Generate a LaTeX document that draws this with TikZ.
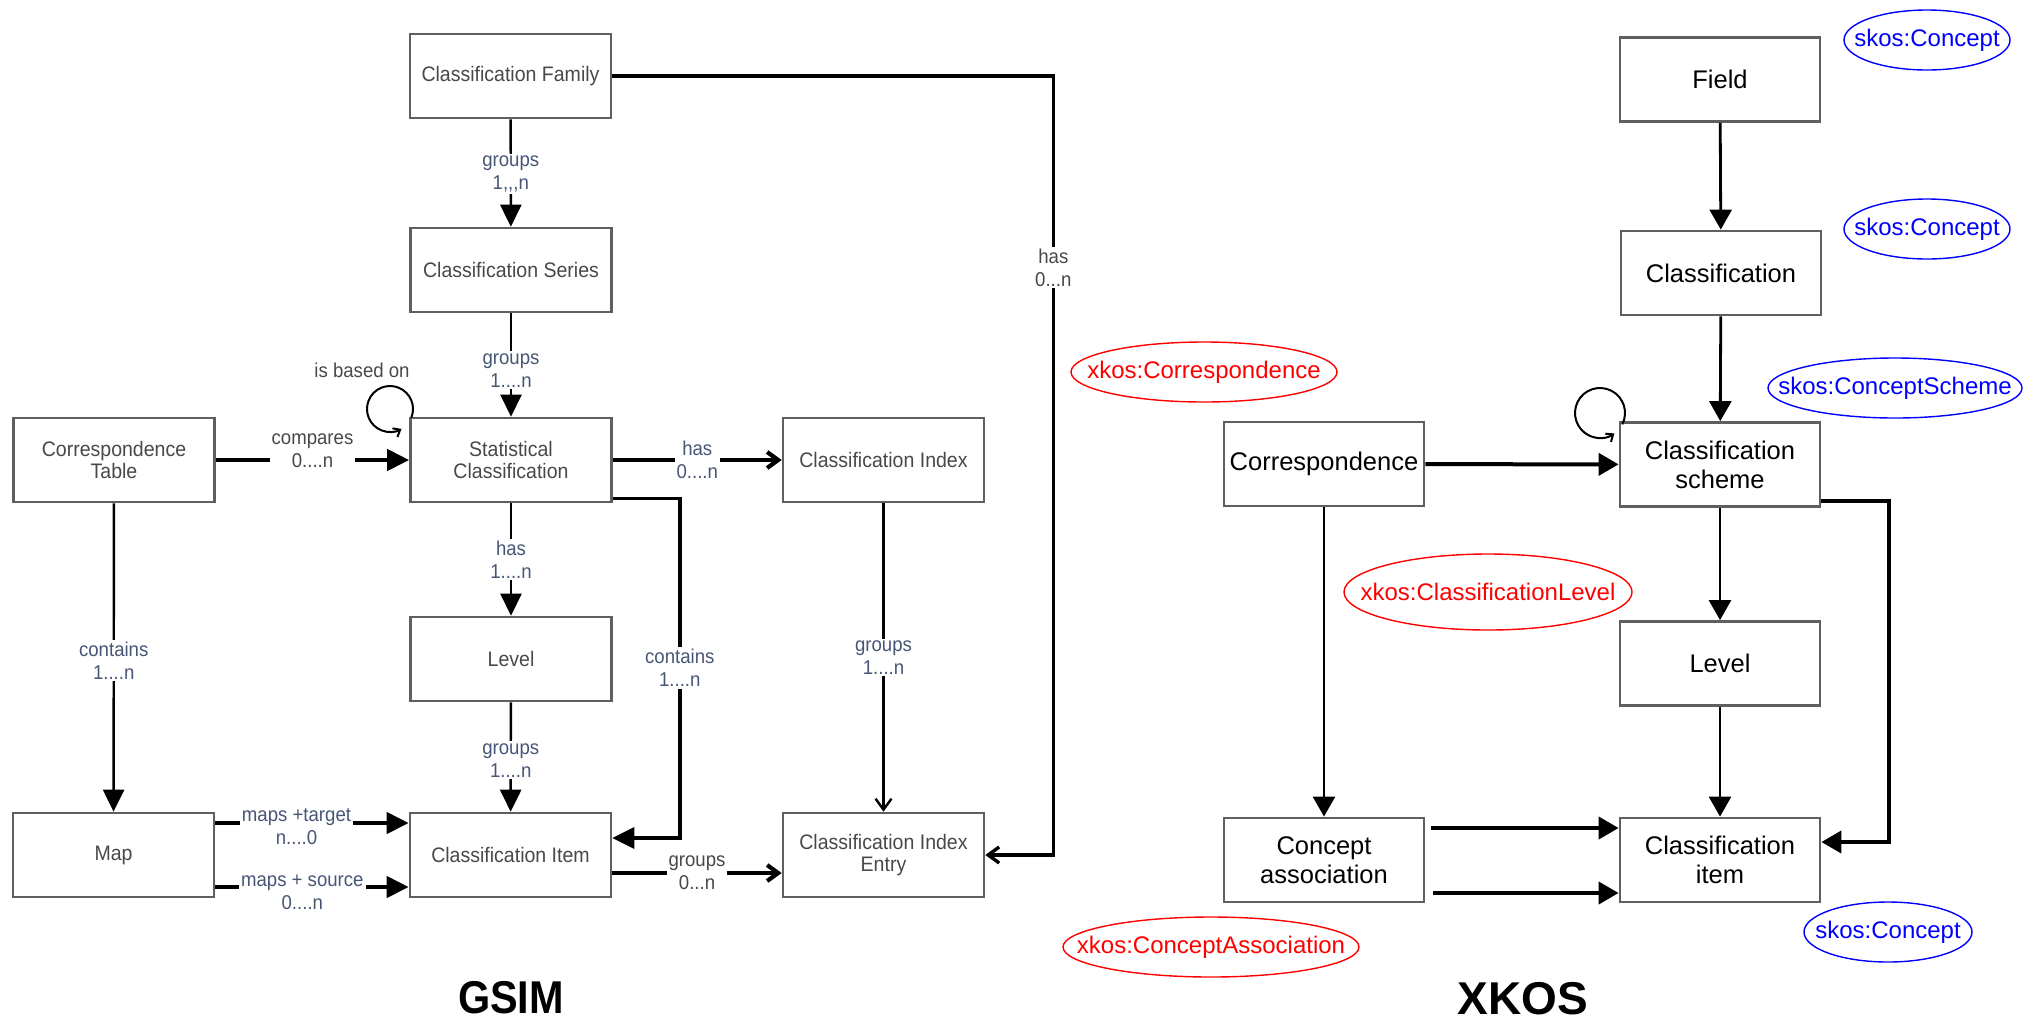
\documentclass[tikz,border=0pt]{standalone}
\usepackage{graphicx}
\usepackage{fontspec}
\setmainfont{Liberation Sans}
\newfontfamily\gfont[FakeStretch=0.93]{Liberation Sans}
\newfontfamily\rfont{Liberation Sans}
\usetikzlibrary{arrows.meta,shapes.geometric}
\definecolor{lblc}{RGB}{72,86,118}
\definecolor{gtext}{RGB}{72,72,72}
\definecolor{boxc}{RGB}{95,95,95}
\newcommand\zw[1]{\makebox[0pt]{#1}}
\begin{document}
\begin{tikzpicture}[x=0.5pt,y=-0.5pt,
  gbox/.style={draw=boxc, line width=1.3pt, minimum width=100.5pt, minimum height=42pt, inner sep=2pt, align=center, text=gtext, font=\gfont\fontsize{10.5pt}{11pt}\selectfont},
  xbox/.style={draw=boxc, line width=1.4pt, minimum width=100pt, minimum height=42pt, inner sep=1pt, align=center, text=black, font=\rfont\fontsize{12.75pt}{14.5pt}\selectfont},
  lbl/.style={fill=white, inner sep=1pt, align=center, text=lblc, font=\gfont\fontsize{10pt}{11.5pt}\selectfont},
  glbl/.style={lbl, text=gtext},
  thinc/.style={draw=black, line width=1.2pt},
  midc/.style={draw=black, line width=1.7pt},
  thickc/.style={draw=black, line width=2.1pt},
  xv/.style={draw=black, line width=1.4pt},
  xh/.style={draw=black, line width=2pt},
  tri/.style={-{Triangle[length=11pt,width=10.5pt]}},
  xtri/.style={-{Triangle[length=10pt,width=11pt]}},
  barb/.style={-{Straight Barb[length=5.5pt,width=8pt]}},
  loopst/.style={draw=black, line width=1pt, -{Straight Barb[length=3pt,width=5pt]}},
  rell/.style={ellipse, draw=red, line width=0.7pt, text=red, inner sep=0pt, font=\rfont\fontsize{12pt}{14pt}\selectfont},
  bell/.style={ellipse, draw=blue, line width=0.7pt, text=blue, inner sep=0pt, font=\rfont\fontsize{12pt}{14pt}\selectfont},
  ttl/.style={inner sep=0pt, font=\rfont\bfseries\fontsize{23pt}{25pt}\selectfont}]
\useasboundingbox (0,0) rectangle (2024,1024);

% ---------------- GSIM ----------------
\node[gbox] (fam)  at (510.5,76)  {Classification Family};
\node[gbox] (ser)  at (511,270)   {Classification Series};
\node[gbox] (sc)   at (511,460)   {Statistical\\Classification};
\node[gbox] (ct)   at (114,460)   {Correspondence\\Table};
\node[gbox] (ci)   at (883.5,460) {Classification Index};
\node[gbox] (lev)  at (511,659)   {Level};
\node[gbox] (item) at (510.5,855) {Classification Item};
\node[gbox] (map)  at (113.5,855) {Map};
\node[gbox] (cie)  at (883.5,855) {Classification Index\\Entry};

\draw[thinc,tri] (fam) -- (ser) node[lbl,pos=0.51] {groups\\1,,,n};
\draw[thinc,tri] (ser) -- (sc) node[lbl,pos=0.55] {groups\\1....n};
\draw[thickc,tri] (ct) -- (sc) node[glbl,midway,yshift=4.5pt] {compares\\0....n};
\draw[thickc,barb] (sc) -- (ci) node[lbl,midway] {has\\0....n};
\draw[thinc,tri] (sc) -- (lev) node[lbl,midway] {has\\1....n};
\draw[thinc,tri] (lev) -- (item) node[lbl,pos=0.53] {groups\\1....n};
\draw[midc,tri] ([yshift=2.5pt]sc.south east) -- ++(67,0) |- ([yshift=8.5pt]item.east)
  node[lbl,pos=0.25] {contains\\1....n};
\draw[thinc,tri] (ct) -- (map) node[lbl,pos=0.51] {contains\\1....n};
\draw[thickc,tri] ([yshift=16pt]map.east) -- ([yshift=16pt]item.west)
  node[lbl,pos=0.42,yshift=-2pt] {maps +target\\n....0};
\draw[thickc,tri] ([yshift=-16pt]map.east) -- ([yshift=-16pt]item.west)
  node[lbl,pos=0.45,yshift=-2.5pt] {maps + source\\0....n};
\draw[thickc,barb] ([yshift=-9pt]item.east) -- ([yshift=-9pt]cie.west) node[glbl,midway] {groups\\0...n};
\draw[thinc,barb] (ci) -- (cie) node[lbl,midway] {groups\\1....n};
\draw[midc,barb] (fam.east) -- ++(441,0) |- (cie.east) node[glbl,pos=0.123] {has\\0...n};

\coordinate (lpa) at (390,409);
\draw[loopst] ([shift={(22:23)}]lpa) arc[start angle=22,end angle=-300,radius=23];
\node[glbl,fill=none] (isb) at (362,370) {is based on};

\node[ttl] (tg) at (511,998) {\scalebox{0.9}[1]{GSIM}};

% ---------------- XKOS ----------------
\node[xbox] (field)  at (1720,79.5) {Field};
\node[xbox] (cls)    at (1721,273)  {Classification};
\node[xbox] (scheme) at (1720,464.5) {Classification\\scheme};
\node[xbox] (corr)   at (1324,464)  {Correspondence};
\node[xbox] (xlev)   at (1720,663.5) {Level};
\node[xbox] (xitem)  at (1720,860)  {Classification\\item};
\node[xbox] (ca)     at (1324,860)  {Concept\\association};

\draw[xv,xtri] (field) -- (cls);
\draw[xv,xtri] (cls) -- (scheme);
\draw[xh,xtri] (corr) -- (scheme);
\draw[xv,xtri] (scheme) -- (xlev);
\draw[xv,xtri] (xlev) -- (xitem);
\draw[xh,xtri] ([yshift=3.5pt]scheme.south east) -- ++(68,0) |- ([yshift=9pt]xitem.east);
\draw[xv,xtri] (corr) -- (ca);
\draw[xh,xtri] ([xshift=3pt,yshift=16pt]ca.east) -- ([yshift=16pt]xitem.west);
\draw[xh,xtri] ([xshift=4pt,yshift=-16.5pt]ca.east) -- ([yshift=-16.5pt]xitem.west);

\coordinate (lpb) at (1600,413);
\draw[loopst] ([shift={(27:25)}]lpb) arc[start angle=27,end angle=-305,radius=25];

\node[bell,minimum width=83pt,minimum height=30pt] (sk1) at (1927,40) {\zw{skos:Concept}};
\node[bell,minimum width=83pt,minimum height=30pt] (sk2) at (1927,229) {\zw{skos:Concept}};
\node[bell,minimum width=127pt,minimum height=30pt] (sks) at (1895,388) {\zw{skos:ConceptScheme}};
\node[bell,minimum width=84pt,minimum height=30pt] (sk3) at (1888,932) {\zw{skos:Concept}};
\node[rell,minimum width=133pt,minimum height=30pt] (xc) at (1204,372) {\zw{xkos:Correspondence}};
\node[rell,minimum width=144pt,minimum height=38pt] (xl) at (1488,592) {\zw{xkos:ClassificationLevel}};
\node[rell,minimum width=148pt,minimum height=30pt] (xa) at (1211,947) {\zw{xkos:ConceptAssociation}};

\node[ttl] (tx) at (1523,999) {XKOS};
\end{tikzpicture}
\end{document}
